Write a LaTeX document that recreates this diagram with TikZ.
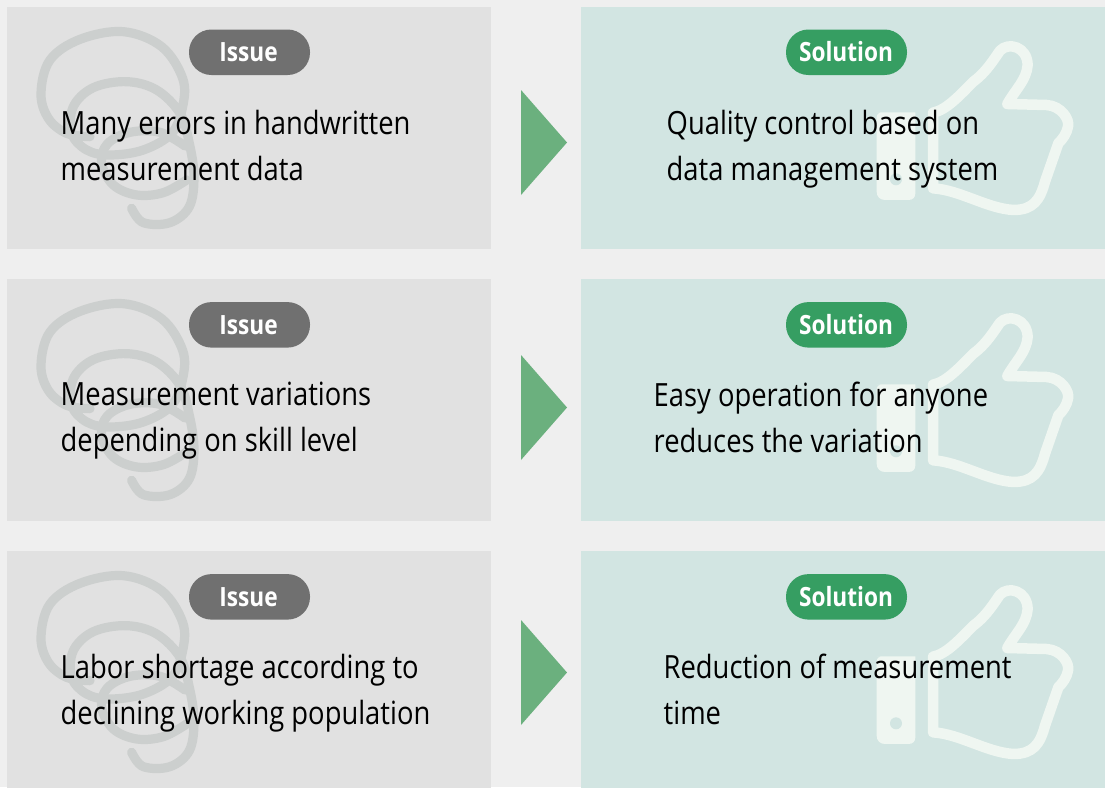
\documentclass[tikz,border=0pt]{standalone}
\usepackage{fontspec}
\setmainfont[FakeStretch=0.855]{Open Sans}
\definecolor{pagebg}{HTML}{EFEFEF}
\definecolor{issuebg}{HTML}{E1E1E1}
\definecolor{solbg}{HTML}{D2E5E2}
\definecolor{issuepill}{HTML}{707070}
\definecolor{solpill}{HTML}{369E62}
\definecolor{arrowgreen}{HTML}{6BB07E}
\definecolor{scribble}{HTML}{CCCFCE}
\definecolor{thumb}{HTML}{EFF6F1}
\tikzset{
  x=1pt,y=-1pt,
  bodytext/.style={anchor=north west,inner sep=0pt,align=left,text=black,font=\fontsize{32}{46}\selectfont},
  pilltext/.style={inner sep=0pt,text=white,font=\fontsize{26.5}{30}\selectfont\bfseries},
  pillshape/.style={rounded corners=22.4pt},
  scribblestroke/.style={draw=scribble,line width=9.2pt,line cap=round,line join=round},
  thumbstroke/.style={draw=thumb,line width=10.5pt,line join=round}
}
\newcommand{\rowart}[3]{%
  \begin{scope}[yshift=-#1pt]
    \fill[issuebg] (7,7) rectangle (491,249);
    \fill[solbg] (581,7) rectangle (1105,249);
    % scribble
    \begin{scope}[shift={(30,20)},x=0.3333pt,y=-0.3333pt]
      \draw[scribblestroke] plot[smooth,tension=0.6] coordinates {(180,350)(110,340)(55,295)(33,220)(60,120)(150,58)(280,35)(395,80)(458,175)(458,260)(425,340)(340,390)(240,405)(170,390)(125,340)(130,260)(190,203)(290,185)(380,210)(450,280)(478,370)(492,470)(478,560)(420,608)(340,608)(305,565)};
      \draw[scribblestroke] plot[smooth,tension=0.6] coordinates {(465,378)(390,337)(300,337)(232,372)(215,430)(250,495)(320,525)(400,518)(470,480)};
    \end{scope}
    % thumb
    \begin{scope}[shift={(870,30)},x=0.3333pt,y=-0.3333pt]
      \draw[thumbstroke] (189,248) .. controls (230,240) and (270,195) .. (310,155)
        .. controls (350,125) and (370,90) .. (390,62)
        .. controls (415,35) and (472,50) .. (473,105)
        .. controls (470,150) and (435,180) .. (412,222)
        -- (530,225)
        .. controls (575,228) and (600,270) .. (594,290)
        .. controls (590,310) and (580,325) .. (565,340)
        -- (525,455)
        .. controls (510,510) and (490,540) .. (430,540)
        .. controls (350,535) and (270,480) .. (189,475) -- cycle;
      \fill[thumb] (20,247) -- (136,247) -- (136,490) .. controls (136,503) and (128,510) .. (115,510) -- (45,510) .. controls (30,510) and (20,500) .. (20,485) -- (20,262) .. controls (20,252) and (28,247) .. (40,247) -- cycle;
      \fill[solbg] (78,448) circle[radius=18];
    \end{scope}
  \end{scope}
  \begin{scope}[yshift=-#3pt]
    \fill[issuepill,pillshape] (189,29.5) rectangle (310,75);
    \fill[solpill,pillshape] (786,29.5) rectangle (907,75);
  \end{scope}
  \begin{scope}[yshift=-#2pt]
    \fill[arrowgreen] (521,90) -- (567,142.5) -- (521,195) -- cycle;
  \end{scope}}
\begin{document}
\begin{tikzpicture}
\useasboundingbox (0,0) rectangle (1105,787);
\fill[pagebg] (0,0) rectangle (1105,787);
\rowart{0}{0}{0}
\rowart{272}{265}{272.6}
\rowart{544}{530}{544.6}
\foreach \n/\y in {a/0,b/272.8,c/544.8}{
  \node[pilltext] (issue\n) at (248.5,52+\y) {Issue};
  \node[pilltext] (sol\n) at (846,52+\y) {Solution};
}
\node[bodytext] (ia) at (60.5,110) {Many errors in handwritten\\measurement data};
\node[bodytext] (ib) at (60.5,382) {Measurement variations\\depending on skill level};
\node[bodytext] (ic) at (60.5,654) {Labor shortage according to\\declining working population};
\node[bodytext] (sa) at (666.5,110) {Quality control based on\\data management system};
\node[bodytext] (sb) at (653.5,382) {Easy operation for anyone\\reduces the variation};
\node[bodytext] (sc) at (663.5,654) {Reduction of measurement\\time};
\end{tikzpicture}
\end{document}
